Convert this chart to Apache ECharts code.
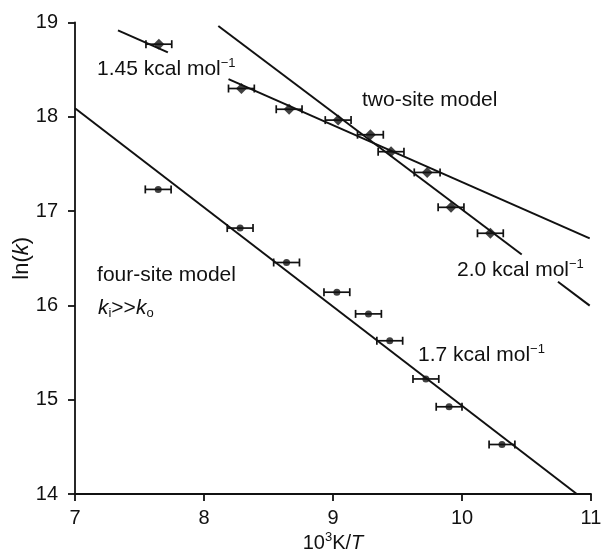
<!DOCTYPE html>
<html>
<head>
<meta charset="utf-8">
<script src="https://cdn.jsdelivr.net/npm/echarts@6/dist/echarts.min.js"></script>
<style>
html,body{margin:0;padding:0;background:#fff;}
#c{width:602px;height:554px;}
</style>
</head>
<body>
<div id="c"></div>
<script>
// ---- data ----
const xTicks = [7, 8, 9, 10, 11];
const yTicks = [14, 15, 16, 17, 18, 19];

const twoSiteX = [7.65, 8.29, 8.66, 9.04, 9.29, 9.45, 9.73, 9.915, 10.22];
const twoSiteY = [18.77, 18.30, 18.08, 17.965, 17.81, 17.63, 17.41, 17.04, 16.765];

const fourSiteX = [7.645, 8.28, 8.64, 9.03, 9.275, 9.44, 9.72, 9.90, 10.31];
const fourSiteY = [17.23, 16.82, 16.455, 16.14, 15.91, 15.625, 15.22, 14.925, 14.525];

const xErr = 0.1;

// fitted lines (segments, endpoints in data units)
const line145a = [[7.333, 18.917], [7.72, 18.684]];
const line145b = [[8.19, 18.40], [10.99, 16.71]];
const line20a  = [[8.111, 18.963], [10.463, 16.54]];
const line20b  = [[10.744, 16.251], [10.99, 15.998]];
const line17   = [[7.0, 18.09], [10.89, 14.0]];

// annotations: [x, y, rich text]
const annotations = [
  [7.171, 18.51, '{t|1.45 kcal mol}{s|−1}'],
  [9.225, 18.178, '{t|two-site model}'],
  [9.961, 16.375, '{t|2.0 kcal mol}{s|−1}'],
  [7.171, 16.32, '{t|four-site model}'],
  [7.178, 15.97, '{i|k}{sub|i}{t|>>}{i|k}{sub|o}'],
  [9.659, 15.474, '{t|1.7 kcal mol}{s|−1}']
];

// ---- chart ----
const chart = echarts.init(document.getElementById('c'), null, {renderer: 'canvas'});
const FONT = 'Liberation Sans, Arial, Helvetica, sans-serif';
const ink = '#111';

function pairs(xs, ys) { return xs.map((x, i) => [x, ys[i]]); }

function errSeries(xs, ys) {
  return {
    type: 'custom',
    silent: true,
    z: 3,
    data: xs.map((x, i) => [x, ys[i], xErr]),
    renderItem: function (params, api) {
      const x = api.value(0), y = api.value(1), e = api.value(2);
      const l = api.coord([x - e, y]);
      const r = api.coord([x + e, y]);
      const h = 4;
      const st = {stroke: ink, lineWidth: 1.7};
      return {
        type: 'group',
        children: [
          {type: 'line', shape: {x1: l[0], y1: l[1], x2: r[0], y2: r[1]}, style: st},
          {type: 'line', shape: {x1: l[0], y1: l[1] - h, x2: l[0], y2: l[1] + h}, style: st},
          {type: 'line', shape: {x1: r[0], y1: r[1] - h, x2: r[0], y2: r[1] + h}, style: st}
        ]
      };
    }
  };
}

function lineSeries(seg) {
  return {
    type: 'line', data: seg, symbol: 'none', silent: true, z: 2,
    lineStyle: {color: ink, width: 2}
  };
}

const richStyles = {
  t: {fontSize: 21, fontFamily: FONT, color: ink, lineHeight: 24},
  s: {fontSize: 13, fontFamily: FONT, color: ink, verticalAlign: 'top', lineHeight: 24},
  i: {fontSize: 21, fontFamily: FONT, color: ink, fontStyle: 'italic', lineHeight: 24},
  sub: {fontSize: 13, fontFamily: FONT, color: ink, verticalAlign: 'bottom', lineHeight: 24}
};

const option = {
  animation: false,
  backgroundColor: '#fff',
  grid: {left: 75, right: 11, top: 22.5, bottom: 60, containLabel: false, outerBoundsMode: 'none'},
  xAxis: {
    type: 'value', min: xTicks[0], max: xTicks[xTicks.length - 1], interval: 1,
    name: '{n|10}{s|3}{n|K/}{i|T}',
    nameLocation: 'middle', nameGap: 37, nameMoveOverlap: false,
    nameTextStyle: {
      rich: {
        n: {fontSize: 20, fontFamily: FONT, color: ink, lineHeight: 24},
        s: {fontSize: 13, fontFamily: FONT, color: ink, verticalAlign: 'top', lineHeight: 24},
        i: {fontSize: 20, fontFamily: FONT, color: ink, fontStyle: 'italic', lineHeight: 24}
      }
    },
    axisLine: {show: true, onZero: false, lineStyle: {color: ink, width: 1.8}},
    axisTick: {show: true, inside: false, length: 7, lineStyle: {color: ink, width: 1.8}},
    axisLabel: {fontSize: 20, fontFamily: FONT, color: ink, margin: 14},
    splitLine: {show: false}
  },
  yAxis: {
    type: 'value', min: yTicks[0], max: yTicks[yTicks.length - 1], interval: 1,
    name: '{n|ln(}{i|k}{n|)}',
    nameLocation: 'middle', nameGap: 42, nameRotate: 90, nameMoveOverlap: false,
    nameTextStyle: {
      rich: {
        n: {fontSize: 22, fontFamily: FONT, color: ink},
        i: {fontSize: 22, fontFamily: FONT, color: ink, fontStyle: 'italic'}
      }
    },
    axisLine: {show: true, onZero: false, lineStyle: {color: ink, width: 1.8}},
    axisTick: {show: true, inside: false, length: 7, lineStyle: {color: ink, width: 1.8}},
    axisLabel: {fontSize: 20, fontFamily: FONT, color: ink, margin: 17},
    splitLine: {show: false}
  },
  series: [
    lineSeries(line145a),
    lineSeries(line145b),
    lineSeries(line20a),
    lineSeries(line20b),
    lineSeries(line17),
    errSeries(twoSiteX, twoSiteY),
    errSeries(fourSiteX, fourSiteY),
    {
      type: 'scatter', data: pairs(twoSiteX, twoSiteY), symbol: 'diamond', symbolSize: 11, z: 4,
      itemStyle: {color: ink}
    },
    {
      type: 'scatter', data: pairs(fourSiteX, fourSiteY), symbol: 'circle', symbolSize: 7, z: 4,
      itemStyle: {color: ink}
    }
  ]
};
chart.setOption(option);

const graphics = annotations.map(a => {
  const p = chart.convertToPixel({gridIndex: 0}, [a[0], a[1]]);
  return {
    type: 'text', x: p[0], y: p[1], silent: true, z: 10,
    style: {text: a[2], rich: richStyles, align: 'left', verticalAlign: 'middle', fill: ink}
  };
});
chart.setOption({graphic: graphics});
</script>
</body>
</html>
